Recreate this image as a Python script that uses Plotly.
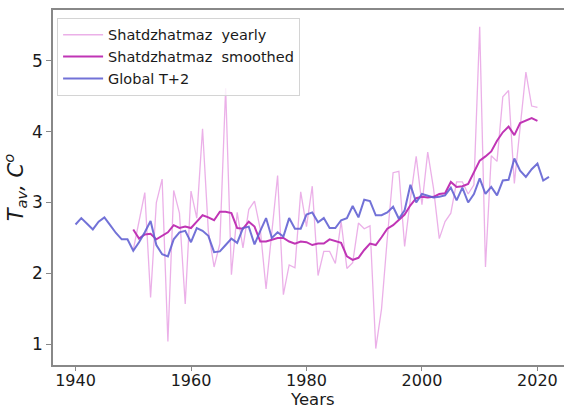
import plotly.graph_objects as go

# Yearly mean temperature, Shatdzhatmaz station, 1950-2020
station_years = list(range(1950, 2021))
station_yearly = [
    2.33, 2.72, 3.14, 1.66, 3.00, 3.33, 1.04, 3.17, 2.85, 1.57,
    3.16, 2.78, 4.04, 2.60, 2.09, 2.42, 4.61, 1.98, 2.86, 2.36,
    2.90, 3.02, 2.62, 1.78, 2.55, 3.38, 1.70, 2.12, 2.08, 3.15,
    2.66, 3.23, 1.97, 2.31, 2.31, 2.14, 2.73, 2.07, 2.15, 2.71,
    2.63, 2.67, 0.94, 1.50, 2.50, 3.42, 3.44, 2.38, 3.05, 3.65,
    2.97, 3.71, 3.20, 2.49, 2.73, 2.85, 3.29, 3.29, 3.12, 3.25,
    5.48, 2.09, 3.66, 3.58, 4.49, 4.58, 3.27, 4.06, 4.84, 4.36,
    4.34,
]
station_smoothed = [
    2.62, 2.49, 2.55, 2.56, 2.48, 2.53, 2.58, 2.68, 2.64, 2.66,
    2.64, 2.73, 2.82, 2.79, 2.75, 2.87, 2.87, 2.85, 2.64, 2.63,
    2.73, 2.66, 2.45, 2.45, 2.47, 2.50, 2.50, 2.45, 2.42, 2.45,
    2.44, 2.40, 2.42, 2.42, 2.48, 2.45, 2.43, 2.24, 2.19, 2.22,
    2.33, 2.42, 2.40, 2.51, 2.63, 2.68, 2.76, 2.83, 2.96, 3.06,
    3.08, 3.07, 3.08, 3.12, 3.13, 3.29, 3.22, 3.23, 3.26, 3.42,
    3.59, 3.65, 3.72, 3.87, 3.99, 4.07, 3.95, 4.12, 4.15, 4.19,
    4.15,
]

# Global temperature shifted by +2, 1940-2022
global_years = list(range(1940, 2023))
global_t2 = [
    2.69, 2.78, 2.70, 2.62, 2.73, 2.79, 2.68, 2.57, 2.48, 2.48,
    2.32, 2.44, 2.58, 2.74, 2.40, 2.27, 2.24, 2.48, 2.58, 2.60,
    2.44, 2.64, 2.60, 2.53, 2.30, 2.31, 2.40, 2.49, 2.43, 2.64,
    2.66, 2.41, 2.60, 2.78, 2.50, 2.58, 2.52, 2.78, 2.63, 2.63,
    2.83, 2.86, 2.72, 2.78, 2.64, 2.64, 2.75, 2.78, 2.95, 2.79,
    3.04, 3.02, 2.82, 2.82, 2.86, 2.94, 2.77, 2.89, 3.25, 3.00,
    3.12, 3.09, 3.07, 3.08, 3.10, 3.21, 3.03, 3.21, 3.00, 3.12,
    3.34, 3.12, 3.22, 3.10, 3.31, 3.32, 3.62, 3.45, 3.36, 3.47,
    3.55, 3.31, 3.36,
]

x_ticks = [1940, 1960, 1980, 2000, 2020]
y_ticks = [1, 2, 3, 4, 5]

font_family = "DejaVu Sans"

fig = go.Figure()
fig.add_trace(go.Scatter(
    x=station_years, y=station_yearly, mode="lines",
    name="Shatdzhatmaz  yearly",
    line=dict(color="rgba(218,112,214,0.55)", width=1.3),
))
fig.add_trace(go.Scatter(
    x=station_years, y=station_smoothed, mode="lines",
    name="Shatdzhatmaz  smoothed",
    line=dict(color="#c035b5", width=2),
))
fig.add_trace(go.Scatter(
    x=global_years, y=global_t2, mode="lines",
    name="Global T+2",
    line=dict(color="rgba(95,95,210,0.88)", width=2),
))

fig.update_layout(
    width=564, height=410,
    margin=dict(l=53, r=0, t=10, b=45),
    paper_bgcolor="white", plot_bgcolor="white",
    font=dict(family=font_family, color="#1a1a1a"),
    showlegend=True,
    legend=dict(
        x=0.008, y=0.978, xanchor="left", yanchor="top",
        bgcolor="rgba(255,255,255,0.8)",
        bordercolor="#d4d4d4", borderwidth=1,
        font=dict(size=14.5, family=font_family, color="#1a1a1a"),
        itemwidth=40,
        tracegroupgap=0,
    ),
    annotations=[dict(
        text="Years", xref="paper", yref="paper",
        x=0.5 * (1935.9 + 2026.1 - 2 * 1936.1) / (2024.6 - 1936.1), y=-0.126,
        xanchor="center", yanchor="bottom", showarrow=False, borderpad=0,
        font=dict(size=16.5, family=font_family, color="#1a1a1a"),
    )],
)
fig.update_xaxes(
    range=[1936.1, 2024.6],
    tickmode="array", tickvals=x_ticks, ticktext=[str(t) for t in x_ticks],
    ticks="outside", ticklen=4, tickcolor="#888888",
    showline=True, linecolor="#888888", linewidth=1.5, mirror=True,
    showgrid=False, zeroline=False,
    tickfont=dict(size=16),
    ticklabelstandoff=-4,
)
fig.update_yaxes(
    range=[0.708, 5.715],
    tickmode="array", tickvals=y_ticks, ticktext=[str(t) for t in y_ticks],
    ticks="outside", ticklen=5, tickcolor="#888888",
    showline=True, linecolor="#888888", linewidth=1.5,
    showgrid=False, zeroline=False,
    tickfont=dict(size=17),
    title=dict(
        text="<i>T</i><sub><i>av</i></sub><i>, C</i><sup><i>o</i></sup>",
        font=dict(size=21), standoff=6,
    ),
)

fig.write_html("out.html")
